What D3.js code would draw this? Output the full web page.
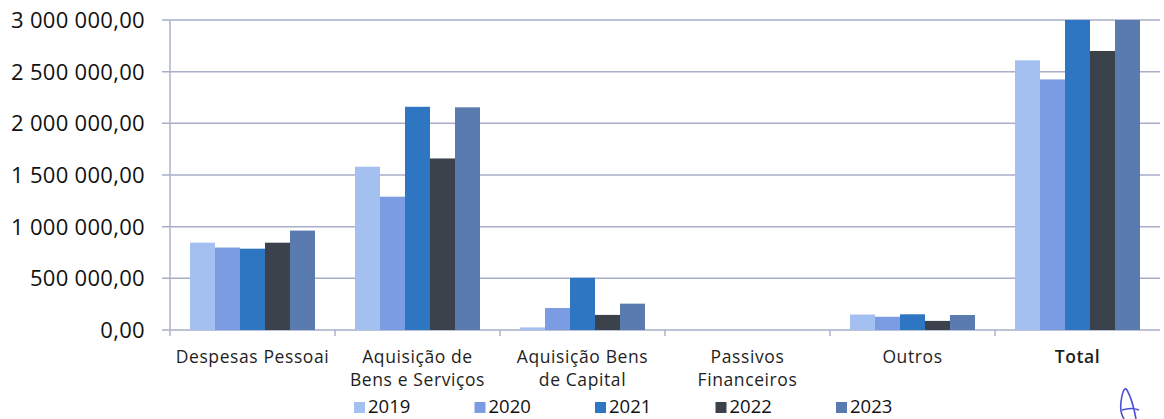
<!DOCTYPE html>
<html>
<head>
<meta charset="utf-8">
<script src="https://cdn.jsdelivr.net/npm/d3@7"></script>
<style>
  body { margin: 0; background: #fff; }
  svg { display: block; font-family: "Open Sans", "Noto Sans", sans-serif; }
</style>
</head>
<body>
<svg id="viz"></svg>
<script>
var width = 1164;
var height = 419;

// data
var categories = ["Despesas Pessoai", "Aquisição de\nBens e Serviços", "Aquisição Bens\nde Capital", "Passivos\nFinanceiros", "Outros", "Total"];
var years = ["2019", "2020", "2021", "2022", "2023"];
var values2019 = [845000, 1580000, 25000, 0, 150000, 2610000];
var values2020 = [798000, 1290000, 213000, 0, 128000, 2425000];
var values2021 = [787000, 2160000, 505000, 0, 152000, 3600000];
var values2022 = [845000, 1660000, 146000, 0, 88000, 2700000];
var values2023 = [962000, 2155000, 255000, 0, 145000, 3520000];
var yTicks = [0, 500000, 1000000, 1500000, 2000000, 2500000, 3000000];
var colors = ["#a4c0f0", "#7b9be3", "#2e75c2", "#3c424c", "#5a7bb0"];

var series = [values2019, values2020, values2021, values2022, values2023];

var margin = {top: 20, right: 4, bottom: 89, left: 170};
var plotW = width - margin.left - margin.right;
var plotH = height - margin.top - margin.bottom;

var svg = d3.select("#viz")
  .attr("width", width)
  .attr("height", height);

var locale = d3.formatLocale({decimal: ",", thousands: "\u00a0", grouping: [3], currency: ["", ""]});
var fmt = locale.format(",.2f");

var x0 = d3.scaleBand()
  .domain(categories)
  .range([margin.left, margin.left + plotW])
  .paddingInner(0)
  .paddingOuter(0);

var x1 = d3.scaleBand()
  .domain(years)
  .range([0, x0.bandwidth()])
  .paddingInner(0)
  .paddingOuter(0.8);

var y = d3.scaleLinear()
  .domain([0, 3000000])
  .range([margin.top + plotH, margin.top]);

svg.append("defs").append("clipPath").attr("id", "plotClip")
  .append("rect")
  .attr("x", margin.left)
  .attr("y", margin.top)
  .attr("width", plotW)
  .attr("height", plotH);

// gridlines
svg.append("g")
  .selectAll("line")
  .data(yTicks)
  .enter().append("line")
  .attr("x1", margin.left - 8)
  .attr("x2", margin.left + plotW)
  .attr("y1", function(d) { return y(d); })
  .attr("y2", function(d) { return y(d); })
  .attr("stroke", "#a9aec8")
  .attr("stroke-width", 1.5);

// y labels
svg.append("g")
  .selectAll("text")
  .data(yTicks)
  .enter().append("text")
  .attr("x", margin.left - 25)
  .attr("y", function(d) { return y(d); })
  .attr("dy", "0.36em")
  .attr("text-anchor", "end")
  .attr("font-size", 22)
  .attr("letter-spacing", 0.3)
  .attr("fill", "#111")
  .text(function(d) { return fmt(d); });

// bars
var groups = svg.append("g")
  .attr("clip-path", "url(#plotClip)")
  .selectAll("g")
  .data(categories)
  .enter().append("g")
  .attr("transform", function(d) { return "translate(" + x0(d) + ",0)"; });

groups.selectAll("rect")
  .data(function(d, i) {
    return years.map(function(yr, j) { return {year: yr, value: series[j][i], idx: j}; });
  })
  .enter().append("rect")
  .attr("x", function(d) { return x1(d.year); })
  .attr("width", x1.bandwidth())
  .attr("y", function(d) { return y(d.value); })
  .attr("height", function(d) { return y(0) - y(d.value); })
  .attr("fill", function(d) { return colors[d.idx]; });

// axes lines
svg.append("line")
  .attr("x1", margin.left).attr("x2", margin.left)
  .attr("y1", margin.top).attr("y2", y(0) + 6)
  .attr("stroke", "#aeb2cb").attr("stroke-width", 1.5);

svg.append("g")
  .selectAll("line")
  .data(categories.slice(1))
  .enter().append("line")
  .attr("x1", function(d) { return x0(d); })
  .attr("x2", function(d) { return x0(d); })
  .attr("y1", y(0))
  .attr("y2", y(0) + 6)
  .attr("stroke", "#aeb2cb").attr("stroke-width", 1.5);

// category labels
var catLabels = svg.append("g")
  .selectAll("text")
  .data(categories)
  .enter().append("text")
  .attr("x", function(d) { return x0(d) + x0.bandwidth() / 2; })
  .attr("y", y(0) + 33)
  .attr("text-anchor", "middle")
  .attr("font-size", 17.5)
  .attr("letter-spacing", 0.6)
  .attr("fill", "#1e1e1e")
  .attr("font-weight", function(d) { return d === "Total" ? 600 : 400; });

catLabels.selectAll("tspan")
  .data(function(d) { return d.split("\n"); })
  .enter().append("tspan")
  .attr("x", function() { return d3.select(this.parentNode).attr("x"); })
  .attr("dy", function(d, i) { return i === 0 ? 0 : 23; })
  .text(function(d) { return d; });

// legend
var legendX = d3.scalePoint()
  .domain(years)
  .range([354, 836]);

var legend = svg.append("g")
  .selectAll("g")
  .data(years)
  .enter().append("g")
  .attr("transform", function(d) { return "translate(" + legendX(d) + "," + 406 + ")"; });

legend.append("rect")
  .attr("x", 0)
  .attr("y", -4)
  .attr("width", 11)
  .attr("height", 11)
  .attr("fill", function(d, i) { return colors[i]; });

legend.append("text")
  .attr("x", 14)
  .attr("y", 0)
  .attr("dy", "0.36em")
  .attr("font-size", 18.5)
  .attr("fill", "#111")
  .text(function(d) { return d; });

// handwritten mark at bottom right
svg.append("path")
  .attr("d", "M1136,419 C1134,408 1131,397 1127,390 C1124,386 1122,394 1121,402 C1120,410 1122,416 1124,419 M1122,410 C1128,408 1134,408 1139,410")
  .attr("fill", "none")
  .attr("stroke", "#4a52d6")
  .attr("stroke-width", 1.6);
</script>
</body>
</html>
